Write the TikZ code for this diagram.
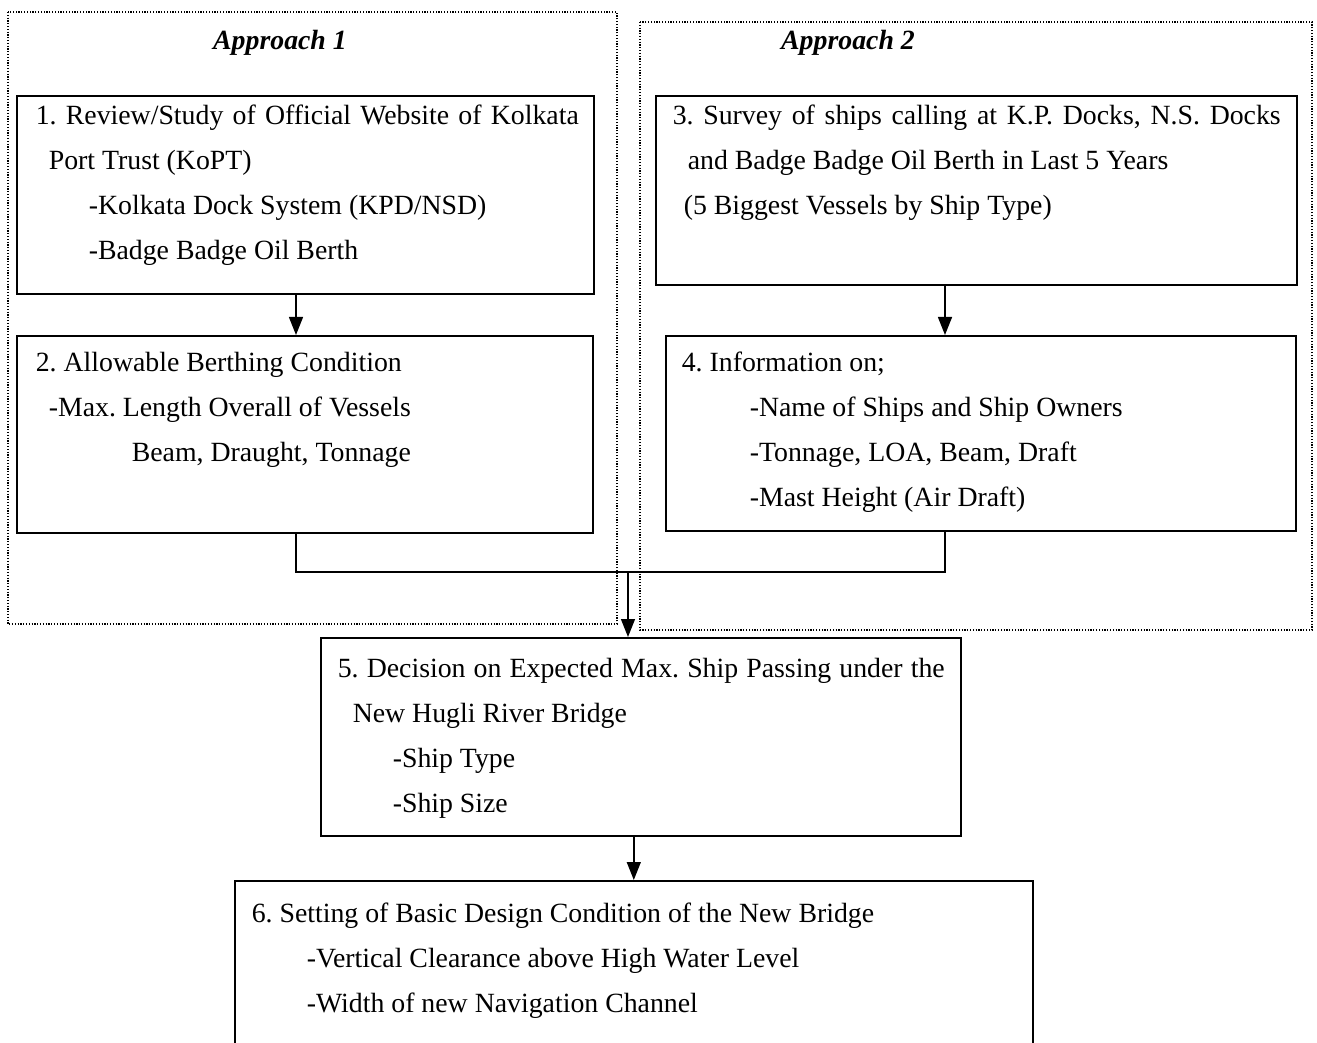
\documentclass[tikz,border=0pt]{standalone}
\usepackage{fontspec}
\setmainfont{Liberation Serif}
\usetikzlibrary{arrows.meta,positioning}

% body of a box: width, height, left pad, first baseline, lines
\newcommand{\boxtext}[5]{\parbox[t][#2][t]{#1}{\raggedright\frenchspacing\leftskip=#3\relax\rule{0pt}{#4}#5}}

\begin{document}
\begin{tikzpicture}[x=0.5pt, y=-0.5pt,
every node/.style={font=\fontsize{13.9}{22.5}\selectfont},
stepbox/.style={draw, line width=0.8pt, inner sep=0pt, anchor=north west},
zone/.style={draw, line width=0.55pt, dash pattern=on 0.6pt off 0.8pt},
title/.style={font=\fontsize{13.9}{16}\selectfont\bfseries\itshape},
link/.style={line width=0.7pt},
arr/.style={link, -{Triangle[width=7pt,length=9pt]}}]

\useasboundingbox (0,0) rectangle (1317,1043);

% approach frames
\draw[zone] (8,12) rectangle (617,624);
\draw[zone] (640,22) rectangle (1312,630);
\node[title] (a1) at (280,43) {Approach 1};
\node[title] (a2) at (848,43) {Approach 2};

\node[stepbox] (s1) at (16,95) {\boxtext{288.5pt}{99pt}{9.5pt}{14.5pt}{\makebox[271.5pt][s]{1. Review/Study of Official Website of Kolkata}\\
\hspace*{6.5pt}Port Trust (KoPT)\\
\hspace*{26.5pt}-Kolkata Dock System (KPD/NSD)\\
\hspace*{26.5pt}-Badge Badge Oil Berth}};
\node[stepbox] (s2) at (16,335) {\boxtext{288pt}{98.5pt}{9.5pt}{18pt}{2. Allowable Berthing Condition\\
\hspace*{6.5pt}-Max. Length Overall of Vessels\\
\hspace*{48pt}Beam, Draught, Tonnage}};
\node[stepbox] (s3) at (655,95) {\boxtext{320.5pt}{94.5pt}{8.5pt}{14.5pt}{\makebox[304pt][s]{3. Survey of ships calling at K.P. Docks, N.S. Docks}\\
\hspace*{7.5pt}and Badge Badge Oil Berth in Last 5 Years\\
\hspace*{5.5pt}(5 Biggest Vessels by Ship Type)}};
\node[stepbox] (s4) at (665,335) {\boxtext{315pt}{97.5pt}{8pt}{18pt}{4. Information on;\\
\hspace*{34pt}-Name of Ships and Ship Owners\\
\hspace*{34pt}-Tonnage, LOA, Beam, Draft\\
\hspace*{34pt}-Mast Height (Air Draft)}};
\node[stepbox] (s5) at (320,637) {\boxtext{320pt}{99pt}{8.5pt}{20pt}{\makebox[303.5pt][s]{5. Decision on Expected Max. Ship Passing under the}\\
\hspace*{7.5pt}New Hugli River Bridge\\
\hspace*{27.5pt}-Ship Type\\
\hspace*{27.5pt}-Ship Size}};
\node[stepbox] (s6) at (234,880) {\boxtext{399pt}{100pt}{8.5pt}{21pt}{6. Setting of Basic Design Condition of the New Bridge\\
\hspace*{27.5pt}-Vertical Clearance above High Water Level\\
\hspace*{27.5pt}-Width of new Navigation Channel}};

\coordinate (m12) at (296,0);
\coordinate (m34) at (945,0);
\coordinate (join) at (628,572);

\draw[arr] (s1.south -| m12) -- (s2.north -| m12);
\draw[arr] (s3.south -| m34) -- (s4.north -| m34);
\draw[link] (s2.south -| m12) |- (join) -| (s4.south -| m34);
\draw[arr] (join) -- (join |- s5.north);
\draw[arr] (s6.north |- s5.south) -- (s6.north);

\end{tikzpicture}
\end{document}
